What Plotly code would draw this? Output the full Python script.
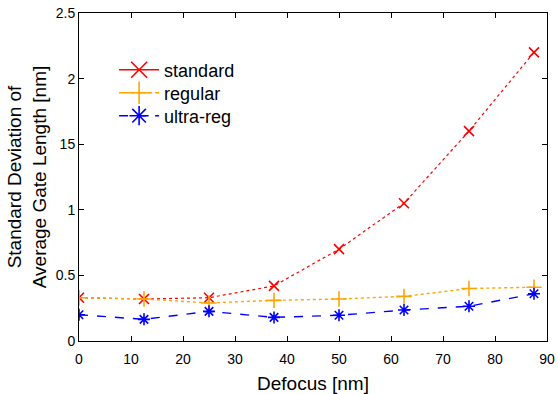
import plotly.graph_objects as go

defocus = [0, 12.5, 25, 37.5, 50, 62.5, 75, 87.5]
standard = [0.33, 0.32, 0.33, 0.42, 0.70, 1.05, 1.60, 2.20]
regular = [0.33, 0.32, 0.29, 0.31, 0.32, 0.34, 0.40, 0.41]
ultra_reg = [0.20, 0.165, 0.226, 0.18, 0.196, 0.236, 0.265, 0.36]

series_names = ["standard", "regular", "ultra-reg"]
x_ticks = [0, 10, 20, 30, 40, 50, 60, 70, 80, 90]
y_ticks = [0, 0.5, 1, 1.5, 2, 2.5]
y_ticktext = ["0", "0.5", "1", "15", "2", "2.5"]

FONT = "Liberation Sans, Arial, sans-serif"
RED, ORANGE, BLUE = "#ff0000", "#ffa500", "#0000ff"

fig = go.Figure()
# data traces (plot styles)
fig.add_trace(go.Scatter(
    x=defocus, y=standard, name=series_names[0], mode="lines+markers", showlegend=False,
    line=dict(color=RED, width=1.2, dash="dot"),
    marker=dict(symbol="x-thin", size=10, line=dict(color=RED, width=1.6)),
))
fig.add_trace(go.Scatter(
    x=defocus, y=regular, name=series_names[1], mode="lines+markers", showlegend=False,
    line=dict(color=ORANGE, width=1.4, dash="dot"),
    marker=dict(symbol="cross-thin", size=11, line=dict(color=ORANGE, width=1.6)),
))
fig.add_trace(go.Scatter(
    x=defocus, y=ultra_reg, name=series_names[2], mode="lines+markers", showlegend=False,
    line=dict(color=BLUE, width=1.4, dash="dash"),
    marker=dict(symbol="asterisk", size=10, line=dict(color=BLUE, width=1.6)),
))

# legend entries (legend styles), each in its own legend box for exact spacing
fig.add_trace(go.Scatter(
    x=[None], y=[None], name=series_names[0], mode="lines+markers", legend="legend",
    line=dict(color=RED, width=1.6),
    marker=dict(symbol="x-thin", size=16, line=dict(color=RED, width=1.6)),
))
fig.add_trace(go.Scatter(
    x=[None], y=[None], name=series_names[1], mode="lines+markers", legend="legend2",
    line=dict(color=ORANGE, width=1.4, dash="dashdot"),
    marker=dict(symbol="cross-thin", size=16, line=dict(color=ORANGE, width=1.6)),
))
fig.add_trace(go.Scatter(
    x=[None], y=[None], name=series_names[2], mode="lines+markers", legend="legend3",
    line=dict(color=BLUE, width=1.4, dash="dash"),
    marker=dict(symbol="asterisk", size=16, line=dict(color=BLUE, width=1.6)),
))

axis_common = dict(
    showline=True, linecolor="black", linewidth=1, mirror="ticks", automargin=False,
    ticks="inside", ticklen=5, tickcolor="black", showgrid=False, zeroline=False,
    tickfont=dict(family=FONT, size=14, color="black"),
)

legend_common = dict(x=0.075, xanchor="left", yanchor="middle",
                     bgcolor="rgba(0,0,0,0)", font=dict(size=18), itemwidth=40)

fig.update_layout(
    width=558, height=394,
    margin=dict(l=79, r=11, t=13, b=53, autoexpand=False),
    paper_bgcolor="white", plot_bgcolor="white",
    font=dict(family=FONT, color="black"),
    xaxis=dict(range=[0, 90], tickvals=x_ticks, ticklabelstandoff=5,
               title=dict(text="Defocus [nm]", font=dict(size=19), standoff=11),
               **axis_common),
    yaxis=dict(range=[0, 2.5], tickvals=y_ticks, ticktext=y_ticktext,
               title=dict(text="Standard Deviation of<br>Average Gate Length [nm]",
                          font=dict(size=19), standoff=4),
               **axis_common),
    legend=dict(y=0.826, **legend_common),
    legend2=dict(y=0.756, **legend_common),
    legend3=dict(y=0.686, **legend_common),
    showlegend=True,
)

fig.write_html("out.html")
